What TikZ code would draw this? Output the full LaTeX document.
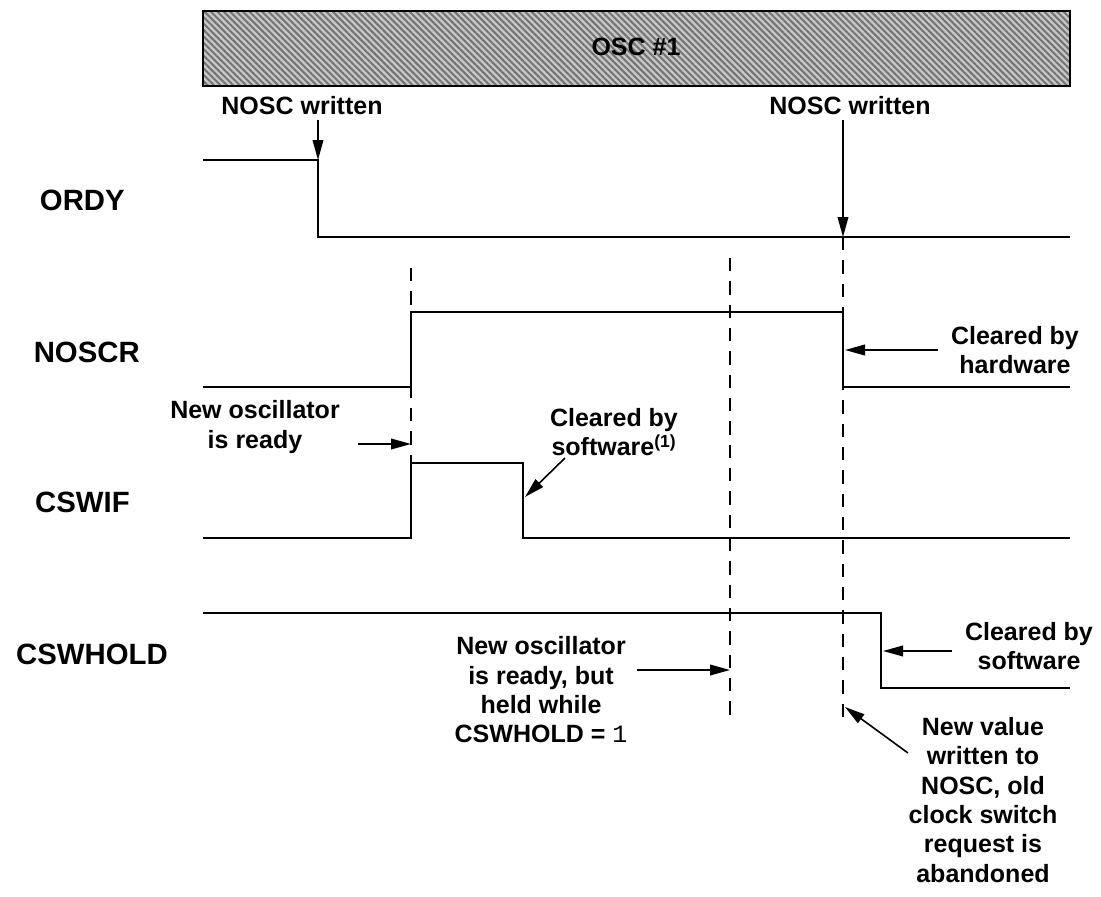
\documentclass[tikz,border=0pt]{standalone}
\usepackage{fontspec}
\setmainfont{Liberation Sans}
\setmonofont{Liberation Mono}
\usetikzlibrary{arrows.meta,patterns.meta}
\begin{document}
\begin{tikzpicture}[x=0.75pt,y=-0.75pt,
  sig/.style={line width=1.7pt, line join=miter},
  ann/.style={font=\fontsize{18.75}{22}\selectfont\bfseries, align=center, inner sep=0pt},
  lab/.style={font=\fontsize{22}{26}\selectfont\bfseries, inner sep=0pt},
  arr/.style={line width=1.2pt, -{Triangle[length=15pt,width=8pt]}},
  guide/.style={line width=1.1pt, dash pattern=on 10pt off 7.5pt},
  oscbox/.style={draw, line width=1.5pt, minimum width=650.25pt, minimum height=56.25pt,
    preaction={fill=black!22}, pattern={Lines[angle=-45,distance=3.4pt,line width=1.5pt]},
    pattern color=black!55, font=\fontsize{18.75}{22}\selectfont\bfseries, inner sep=0pt}]
\useasboundingbox (0,0) rectangle (1101,897);

% top oscillator box
\node[oscbox] (oscb) at (636.5,48.5) {};
\node[ann] (osc) at (636,47) {OSC \#1};

% signal names
\node[lab, anchor=east] (lordy) at (125,200) {ORDY};
\node[lab, anchor=east] (lnoscr) at (140,352) {NOSCR};
\node[lab, anchor=east] (lcswif) at (130,502) {CSWIF};
\node[lab, anchor=east] (lcswhold) at (168,654) {CSWHOLD};

% waveforms
\draw[sig] (203,160) -- (318,160) -- (318,237) -- (1070,237);
\draw[sig] (203,387) -- (411,387) -- (411,312) -- (843,312) -- (843,387) -- (1070,387);
\draw[sig] (203,538) -- (411,538) -- (411,463) -- (523,463) -- (523,538) -- (1070,538);
\draw[sig] (203,613) -- (881,613) -- (881,688) -- (1070,688);

% dashed guides
\coordinate (g1t) at (411,268); \coordinate (g1b) at (411,463);
\coordinate (g2t) at (730,258); \coordinate (g2b) at (730,720);
\coordinate (g3t) at (843,237); \coordinate (g3b) at (843,720);
\draw[guide] (g1t) -- (g1b);
\draw[guide] (g2t) -- (g2b);
\draw[guide] (g3t) -- (g3b);

% annotations
\node[ann] (nw1) at (302,106) {NOSC written};
\node[ann] (nw2) at (850,106) {NOSC written};
\node[ann] (ready) at (255,427) {New oscillator\\is ready};
\node[ann] (csw1) at (614,432) {Cleared by\\software\textsuperscript{(1)}};
\node[ann] (hw) at (1015,350) {Cleared by\\hardware};
\node[ann] (sw) at (1029,646) {Cleared by\\software};
\node[ann] (held) at (541,690) {New oscillator\\is ready, but\\held while\\CSWHOLD = {\ttfamily\mdseries 1}};
\node[ann] (nv) at (983,800) {New value\\written to\\NOSC, old\\clock switch\\request is\\abandoned};

% arrows
\coordinate (a1s) at (318,120); \coordinate (a1e) at (318,160);
\coordinate (a2s) at (843,120); \coordinate (a2e) at (843,237);
\coordinate (a3s) at (358,444); \coordinate (a3e) at (411,444);
\coordinate (a4s) at (565,458); \coordinate (a4e) at (525,497);
\coordinate (a5s) at (938,350); \coordinate (a5e) at (845,350);
\coordinate (a6s) at (637,670); \coordinate (a6e) at (730,670);
\coordinate (a7s) at (952,651); \coordinate (a7e) at (883,651);
\coordinate (a8s) at (908,753); \coordinate (a8e) at (845,707);
\draw[arr] (a1s) -- (a1e);
\draw[arr] (a2s) -- (a2e);
\draw[arr] (a3s) -- (a3e);
\draw[arr] (a4s) -- (a4e);
\draw[arr] (a5s) -- (a5e);
\draw[arr] (a6s) -- (a6e);
\draw[arr] (a7s) -- (a7e);
\draw[arr] (a8s) -- (a8e);
\end{tikzpicture}
\end{document}
